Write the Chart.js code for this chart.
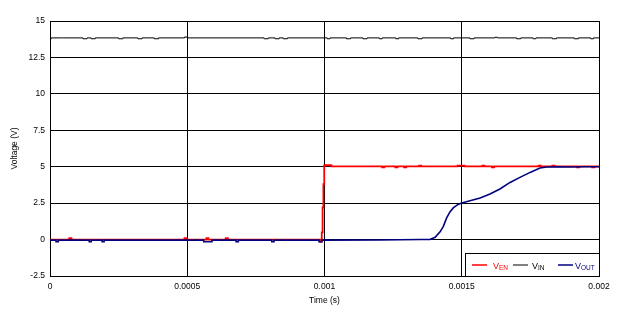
<!DOCTYPE html>
<html>
<head>
<meta charset="utf-8">
<script src="https://cdn.jsdelivr.net/npm/chart.js@4/dist/chart.umd.min.js"></script>
<style>
html,body{margin:0;padding:0;background:#fff;}
#wrap{width:625px;height:317px;position:relative;}
</style>
</head>
<body>
<div id="wrap"><canvas id="c" width="625" height="317"></canvas></div>
<script>
// ---- Data ----
const xTicks = [0, 0.0005, 0.001, 0.0015, 0.002];
const xTickLabels = ["0", "0.0005", "0.001", "0.0015", "0.002"];
const yTicks = [-2.5, 0, 2.5, 5, 7.5, 10, 12.5, 15];
const yTickLabels = ["-2.5", "0", "2.5", "5", "7.5", "10", "12.5", "15"];
const seriesNames = ["VEN", "VIN", "VOUT"];

const vinTime = [0,0.000005,0.000045,0.00012,0.000135,0.00015,0.000165,0.00025,0.000265,0.00032,0.000335,0.00038,0.000395,0.00049,0.0005,0.00078,0.000795,0.00082,0.000835,0.00085,0.000865,0.00101,0.00102,0.00108,0.001095,0.00114,0.001155,0.0012,0.00121,0.00126,0.00127,0.00134,0.001355,0.00146,0.00147,0.00153,0.001545,0.00162,0.00163,0.0017,0.001715,0.00176,0.00177,0.00183,0.001845,0.00191,0.001925,0.00197,0.00198,0.002];
const vinVolt = [13.78,13.84,13.84,13.78,13.84,13.78,13.84,13.78,13.84,13.78,13.84,13.78,13.84,13.9,13.84,13.78,13.84,13.78,13.84,13.78,13.84,13.78,13.84,13.78,13.84,13.78,13.84,13.78,13.84,13.78,13.84,13.78,13.84,13.78,13.84,13.78,13.84,13.88,13.84,13.78,13.84,13.78,13.84,13.78,13.84,13.78,13.84,13.78,13.84,13.84];

const venTime = [0,0.00007,0.000078,0.00049,0.000497,0.00057,0.000577,0.00064,0.000648,0.00098,0.000985,0.00099,0.000993,0.000996,0.000999,0.001025,0.00121,0.001218,0.001258,0.001266,0.00129,0.001298,0.001345,0.001352,0.001485,0.00151,0.001575,0.001583,0.00161,0.001618,0.00178,0.001788,0.00183,0.001838,0.00192,0.001928,0.001975,0.001983,0.002];
const venVolt = [0.0,0.1,0.0,0.1,0.0,0.1,0.0,0.1,0.0,0.0,-0.15,0.5,2.2,3.8,5.1,5.02,4.95,5.02,4.95,5.02,4.95,5.02,5.08,5.02,5.08,5.02,5.08,5.02,4.95,5.02,5.08,5.02,5.08,5.02,4.95,5.02,4.95,5.02,5.02];

const voutTime = [0,0.000022,0.000022,0.00003,0.00003,0.000143,0.000143,0.00015,0.00015,0.00019,0.00019,0.000197,0.000197,0.00056,0.00056,0.00059,0.00059,0.000678,0.000678,0.000686,0.000686,0.000808,0.000808,0.000816,0.000816,0.00098,0.00098,0.00099,0.00099,0.0012,0.00135,0.001384,0.001403,0.001421,0.001433,0.001445,0.001457,0.001469,0.001484,0.001493,0.0015,0.00153,0.001567,0.001603,0.001639,0.001676,0.001712,0.001749,0.001785,0.00181,0.00185,0.0019,0.00195,0.002];
const voutVolt = [-0.04,-0.04,-0.15,-0.15,-0.04,-0.04,-0.15,-0.15,-0.04,-0.04,-0.15,-0.15,-0.04,-0.04,-0.15,-0.15,-0.04,-0.04,-0.15,-0.15,-0.04,-0.04,-0.15,-0.15,-0.04,-0.04,-0.15,-0.15,-0.04,-0.03,0.0,0.0,0.16,0.53,0.91,1.49,1.9,2.17,2.38,2.46,2.51,2.66,2.86,3.13,3.47,3.92,4.27,4.61,4.91,4.98,5.0,4.98,5.0,5.0];

function pts(t, v){ return t.map((x,i)=>({x:x, y:v[i]})); }

const FONT = "'Liberation Sans', Arial, sans-serif";

const legendPlugin = {
  id: 'subLegend',
  afterDatasetsDraw(chart){
    const ctx = chart.ctx, a = chart.chartArea;
    const bx = a.right - 134, by = a.bottom - 23, bw = 134, bh = 23;
    ctx.save();
    ctx.fillStyle = '#fff';
    ctx.fillRect(bx, by, bw, bh);
    ctx.strokeStyle = '#000'; ctx.lineWidth = 1;
    ctx.strokeRect(Math.round(bx)+0.5, Math.round(by)+0.5, bw, bh);
    const items = [
      {c:'#ff0000', sub:'EN', lx:7, tx:28, w:1.5},
      {c:'#000000', sub:'IN', lx:48, tx:67, w:1},
      {c:'#000080', sub:'OUT', lx:93, tx:110, w:1.5}
    ];
    const cy = by + 12;
    items.forEach(it=>{
      ctx.strokeStyle = it.c; ctx.lineWidth = it.w;
      ctx.beginPath(); ctx.moveTo(bx+it.lx, cy); ctx.lineTo(bx+it.lx+15, cy); ctx.stroke();
      ctx.fillStyle = it.c;
      ctx.textBaseline = 'alphabetic'; ctx.textAlign = 'left';
      ctx.font = '9px ' + FONT;
      ctx.fillText('V', bx+it.tx, cy+3.5);
      const vw = ctx.measureText('V').width;
      ctx.font = '6.5px ' + FONT;
      ctx.fillText(it.sub, bx+it.tx+vw, cy+4.5);
    });
    ctx.restore();
  }
};

new Chart(document.getElementById('c'), {
  type: 'scatter',
  data: {
    datasets: [
      {label: seriesNames[2], data: pts(voutTime, voutVolt), showLine:true, borderColor:'#000080', borderWidth:1.6, pointRadius:0, tension:0, order:0},
      {label: seriesNames[0], data: pts(venTime, venVolt), showLine:true, stepped:true, borderColor:'#ff0000', borderWidth:1.8, pointRadius:0, order:1},
      {label: seriesNames[1], data: pts(vinTime, vinVolt), showLine:true, stepped:true, borderColor:'#000000', borderWidth:1, pointRadius:0, order:2}
    ]
  },
  options: {
    responsive:false, animation:false,
    layout:{padding:{top:21, right:26, left:10, bottom:11}},
    plugins:{legend:{display:false}, tooltip:{enabled:false}},
    scales:{
      x:{
        type:'linear', min:0, max:0.002,
        afterBuildTicks(s){ s.ticks = xTicks.map(v=>({value:v})); },
        afterFit(s){ s.height = 30; },
        ticks:{color:'#000', font:{family:FONT, size:8.5}, padding:6, maxRotation:0,
          callback:(v)=>{ const i = xTicks.indexOf(v); return i>=0 ? xTickLabels[i] : ''; }},
        grid:{color:'#000', lineWidth:1, drawTicks:false},
        border:{color:'#000', width:1},
        title:{display:true, text:'Time (s)', color:'#000', font:{family:FONT, size:8.5}, padding:{top:2,bottom:0}}
      },
      y:{
        type:'linear', min:-2.5, max:15,
        afterBuildTicks(s){ s.ticks = yTicks.map(v=>({value:v})); },
        afterFit(s){ s.width = 40; },
        ticks:{color:'#000', font:{family:FONT, size:8.5}, padding:5,
          callback:(v)=>{ const i = yTicks.indexOf(v); return i>=0 ? yTickLabels[i] : ''; }},
        grid:{color:'#000', lineWidth:1, drawTicks:false},
        border:{color:'#000', width:1},
        title:{display:true, text:'Voltage (V)', color:'#000', font:{family:FONT, size:8.5}, padding:{top:0,bottom:0}}
      }
    }
  },
  plugins:[legendPlugin]
});
</script>
</body>
</html>
